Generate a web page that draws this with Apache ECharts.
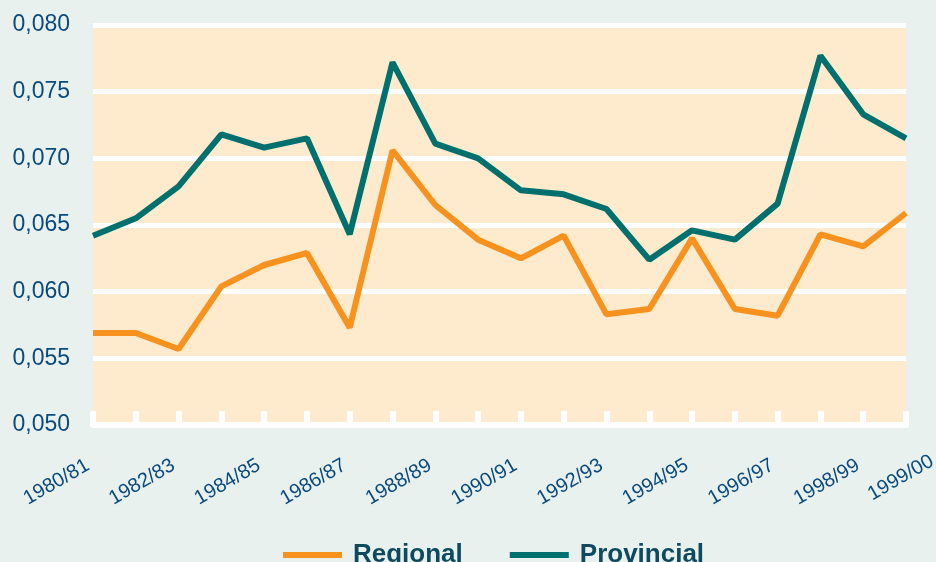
<!DOCTYPE html>
<html>
<head>
<meta charset="utf-8">
<script src="https://cdn.jsdelivr.net/npm/echarts@6/dist/echarts.min.js"></script>
<style>
  html, body { margin: 0; padding: 0; background: #e9f1ee; }
  #main { width: 936px; height: 562px; }
</style>
</head>
<body>
<div id="main"></div>
<script>
// seasons 1980/81 .. 1999/00
const seasons = ['1980/81', '1981/82', '1982/83', '1983/84', '1984/85', '1985/86', '1986/87',
  '1987/88', '1988/89', '1989/90', '1990/91', '1991/92', '1992/93', '1993/94', '1994/95',
  '1995/96', '1996/97', '1997/98', '1998/99', '1999/00'];
const regional = [0.0569, 0.0569, 0.0557, 0.0604, 0.0620, 0.0629, 0.0573, 0.0706, 0.0665, 0.0639,
  0.0625, 0.0642, 0.0583, 0.0587, 0.0640, 0.0587, 0.0582, 0.0643, 0.0634, 0.0659];
const provincial = [0.0642, 0.0655, 0.0679, 0.0718, 0.0708, 0.0715, 0.0643, 0.0772, 0.0711, 0.0700,
  0.0676, 0.0673, 0.0662, 0.0624, 0.0646, 0.0639, 0.0666, 0.0777, 0.0733, 0.0715];
const yTicks = [0.050, 0.055, 0.060, 0.065, 0.070, 0.075, 0.080];

const labelColor = '#0b4a7c';
let chart = echarts.init(document.getElementById('main'));

let option = {
  backgroundColor: '#e9f1ee',
  animation: false,
  grid: {
    left: 93, right: 30, top: 25, bottom: 137,
    show: true,
    backgroundColor: '#feebcd',
    borderWidth: 0,
    outerBoundsMode: 'none'
  },
  legend: {
    data: ['Regional', 'Provincial'],
    left: 278, top: 537,
    icon: 'rect',
    itemWidth: 59, itemHeight: 6,
    itemGap: 47,
    textStyle: {
      fontFamily: 'Liberation Sans', fontSize: 26, fontWeight: 'bold',
      color: '#0e4a5e', padding: [0, 0, 0, 6]
    }
  },
  xAxis: {
    type: 'category',
    data: seasons,
    boundaryGap: false,
    axisLine: { lineStyle: { color: '#ffffff', width: 6 } },
    axisTick: { show: true, inside: true, length: 14, interval: 0, lineStyle: { color: '#ffffff', width: 6 } },
    axisLabel: {
      interval: function (i) { return i % 2 === 0 || i === seasons.length - 1; },
      rotate: 30, margin: 36,
      fontFamily: 'Liberation Sans', fontSize: 20, color: labelColor,
      alignMaxLabel: 'center',
      formatter: function (v, i) {
        return i === seasons.length - 1 ? '{e|' + v + '}' : '{n|' + v + '}';
      },
      rich: {
        n: { fontFamily: 'Liberation Sans', fontSize: 20, color: labelColor, padding: [0, 6, 0, 0] },
        e: { fontFamily: 'Liberation Sans', fontSize: 20, color: labelColor, padding: [24, 26, 0, 0] }
      }
    },
    splitLine: { show: false }
  },
  yAxis: {
    type: 'value',
    min: yTicks[0], max: yTicks[yTicks.length - 1], interval: 0.005,
    axisLine: { show: false },
    axisTick: { show: false },
    axisLabel: {
      margin: 23,
      fontFamily: 'Liberation Sans', fontSize: 23, color: labelColor,
      formatter: function (v) { return v.toFixed(3).replace('.', ','); }
    },
    splitLine: { lineStyle: { color: '#ffffff', width: 5 } }
  },
  series: [
    {
      name: 'Regional',
      type: 'line',
      data: regional,
      symbol: 'none',
      z: 4,
      color: '#f7921e',
      lineStyle: { width: 6, color: '#f7921e' }
    },
    {
      name: 'Provincial',
      type: 'line',
      data: provincial,
      symbol: 'none',
      z: 3,
      color: '#00706e',
      lineStyle: { width: 6, color: '#00706e' }
    }
  ]
};
option && chart.setOption(option);
</script>
</body>
</html>
